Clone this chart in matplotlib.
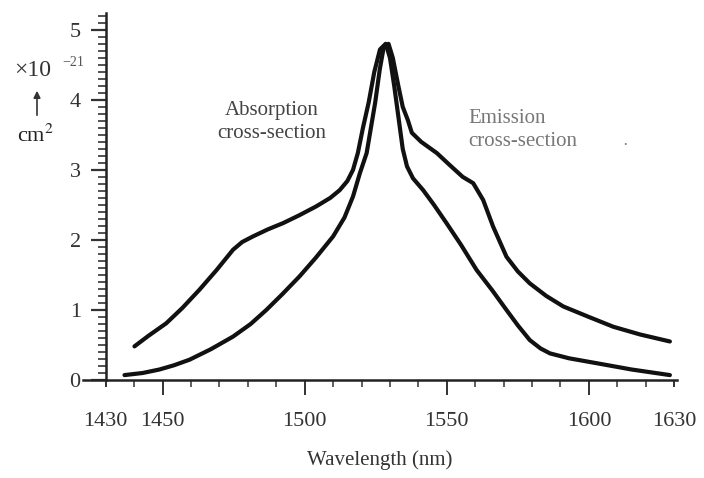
import matplotlib
matplotlib.use("Agg")
import matplotlib.pyplot as plt
from matplotlib.ticker import MultipleLocator, FixedLocator

plt.rcParams['font.family'] = ['Liberation Serif', 'DejaVu Serif']
plt.rcParams['mathtext.fontset'] = 'stix'

# Absorption cross-section (x10^-21 cm^2)
abs_wl = [1440.1, 1445, 1451.3, 1457, 1463.0, 1469, 1474.8, 1478, 1481.8, 1487,
          1492.4, 1498, 1504.1, 1509, 1512.3, 1515, 1517.0, 1518.7, 1520.5, 1522.5,
          1524.5, 1526.5, 1528.5, 1530, 1531.5, 1533, 1534.5, 1536, 1538.1, 1541.7,
          1545.5, 1549.9, 1555, 1560.5, 1566, 1571.0, 1575, 1579.2, 1583, 1586.3,
          1593, 1602.7, 1615, 1628.5]
abs_val = [0.48, 0.63, 0.81, 1.03, 1.29, 1.57, 1.86, 1.97, 2.05, 2.15,
           2.24, 2.35, 2.48, 2.60, 2.71, 2.84, 3.00, 3.24, 3.60, 3.96,
           4.40, 4.72, 4.80, 4.60, 4.20, 3.75, 3.30, 3.05, 2.88, 2.71,
           2.50, 2.24, 1.93, 1.57, 1.28, 1.00, 0.78, 0.57, 0.45, 0.38,
           0.31, 0.24, 0.15, 0.07]

# Emission cross-section (x10^-21 cm^2)
emi_wl = [1436.6, 1443, 1448.9, 1454, 1459.5, 1467, 1474.8, 1481, 1486.5, 1492,
          1498.2, 1504, 1510, 1514, 1517, 1519.4, 1521.8, 1523.3, 1524.8, 1526.4,
          1527.8, 1529.5, 1531, 1533, 1534.5, 1536.3, 1537.7, 1541, 1546.5, 1551,
          1555.6, 1559.3, 1562.8, 1566.3, 1571, 1575, 1579.2, 1585, 1591, 1600,
          1608.6, 1618, 1628.5]
emi_val = [0.07, 0.10, 0.15, 0.21, 0.29, 0.44, 0.62, 0.80, 1.00, 1.22,
           1.48, 1.75, 2.05, 2.32, 2.62, 2.95, 3.24, 3.60, 3.96, 4.43,
           4.75, 4.80, 4.60, 4.19, 3.90, 3.71, 3.53, 3.40, 3.24, 3.07,
           2.90, 2.81, 2.57, 2.19, 1.76, 1.55, 1.38, 1.20, 1.05, 0.90,
           0.76, 0.65, 0.55]

x_ticks = [1430, 1450, 1500, 1550, 1600, 1630]
x_tick_labels = ['1430', '1450', '1500', '1550', '1600', '1630']
y_ticks = [0, 1, 2, 3, 4, 5]
y_tick_labels = ['0', '1', '2', '3', '4', '5']

W, H = 704, 478
fig = plt.figure(figsize=(W / 100, H / 100), dpi=100)
fig.patch.set_facecolor('white')

def fx(px):
    return px / W

def fy(py):
    return 1 - py / H

ax = fig.add_axes([fx(83), fy(380), fx(677) - fx(83), fy(13) - fy(380)])
ax.set_xlim(1422, 1631)
ax.set_ylim(0, 5.24)

ax.plot(abs_wl, abs_val, color='#111111', lw=3.0, solid_capstyle='round',
        solid_joinstyle='round', clip_on=False)
ax.plot(emi_wl, emi_val, color='#111111', lw=3.0, solid_capstyle='round',
        solid_joinstyle='round', clip_on=False)

for s in ['top', 'right']:
    ax.spines[s].set_visible(False)
ax.spines['left'].set_position(('data', 1430))
ax.spines['left'].set_linewidth(1.8)
ax.spines['bottom'].set_linewidth(1.8)
ax.spines['left'].set_color('#222222')
ax.spines['bottom'].set_color('#222222')

ax.xaxis.set_major_locator(FixedLocator(x_ticks))
ax.set_xticklabels(x_tick_labels)
ax.xaxis.set_minor_locator(MultipleLocator(10))
ax.yaxis.set_major_locator(FixedLocator(y_ticks))
ax.set_yticklabels(y_tick_labels)
ax.yaxis.set_minor_locator(MultipleLocator(0.1))

ax.tick_params(axis='x', which='major', direction='out', length=11, width=1.4,
               pad=12, labelsize=16, colors='#333333')
ax.tick_params(axis='x', which='minor', direction='out', length=5, width=1.2,
               colors='#444444')
ax.tick_params(axis='y', which='major', direction='out', length=11, width=1.6,
               pad=7, labelsize=16, colors='#333333')
ax.tick_params(axis='y', which='minor', direction='out', length=6, width=1.2,
               colors='#333333')
for t in ax.xaxis.get_major_ticks():
    if t.get_loc() in (1430, 1630):
        t.tick1line.set_markersize(5)

ax.set_xlabel('Wavelength (nm)', fontsize=15, color='#333333', labelpad=14)

# Annotations
fig.text(fx(272), fy(122), 'Absorption\ncross-section', ha='center', va='center',
         fontsize=15, color='#444444', linespacing=1.3)
fig.text(fx(468), fy(130), 'Emission\ncross-section', ha='left', va='center',
         fontsize=15, color='#777777', linespacing=1.3)
fig.text(fx(625), fy(146), '·', ha='center', va='center', fontsize=12, color='#777777')

# Unit label
fig.text(fx(33), fy(70), '×10', ha='center', va='center', fontsize=17, color='#333333')
fig.text(fx(73), fy(63), '−21', ha='center', va='center', fontsize=10, color='#555555')
fig.patches.append(matplotlib.patches.FancyArrowPatch(
    (fx(37), fy(118)), (fx(37), fy(88)), transform=fig.transFigure,
    arrowstyle='-|>', mutation_scale=10, color='#333333', lw=1.2))
fig.text(fx(35), fy(136), 'cm$^2$', ha='center', va='center', fontsize=16,
         color='#222222')

fig.savefig('out.png', dpi=100, facecolor='white')
